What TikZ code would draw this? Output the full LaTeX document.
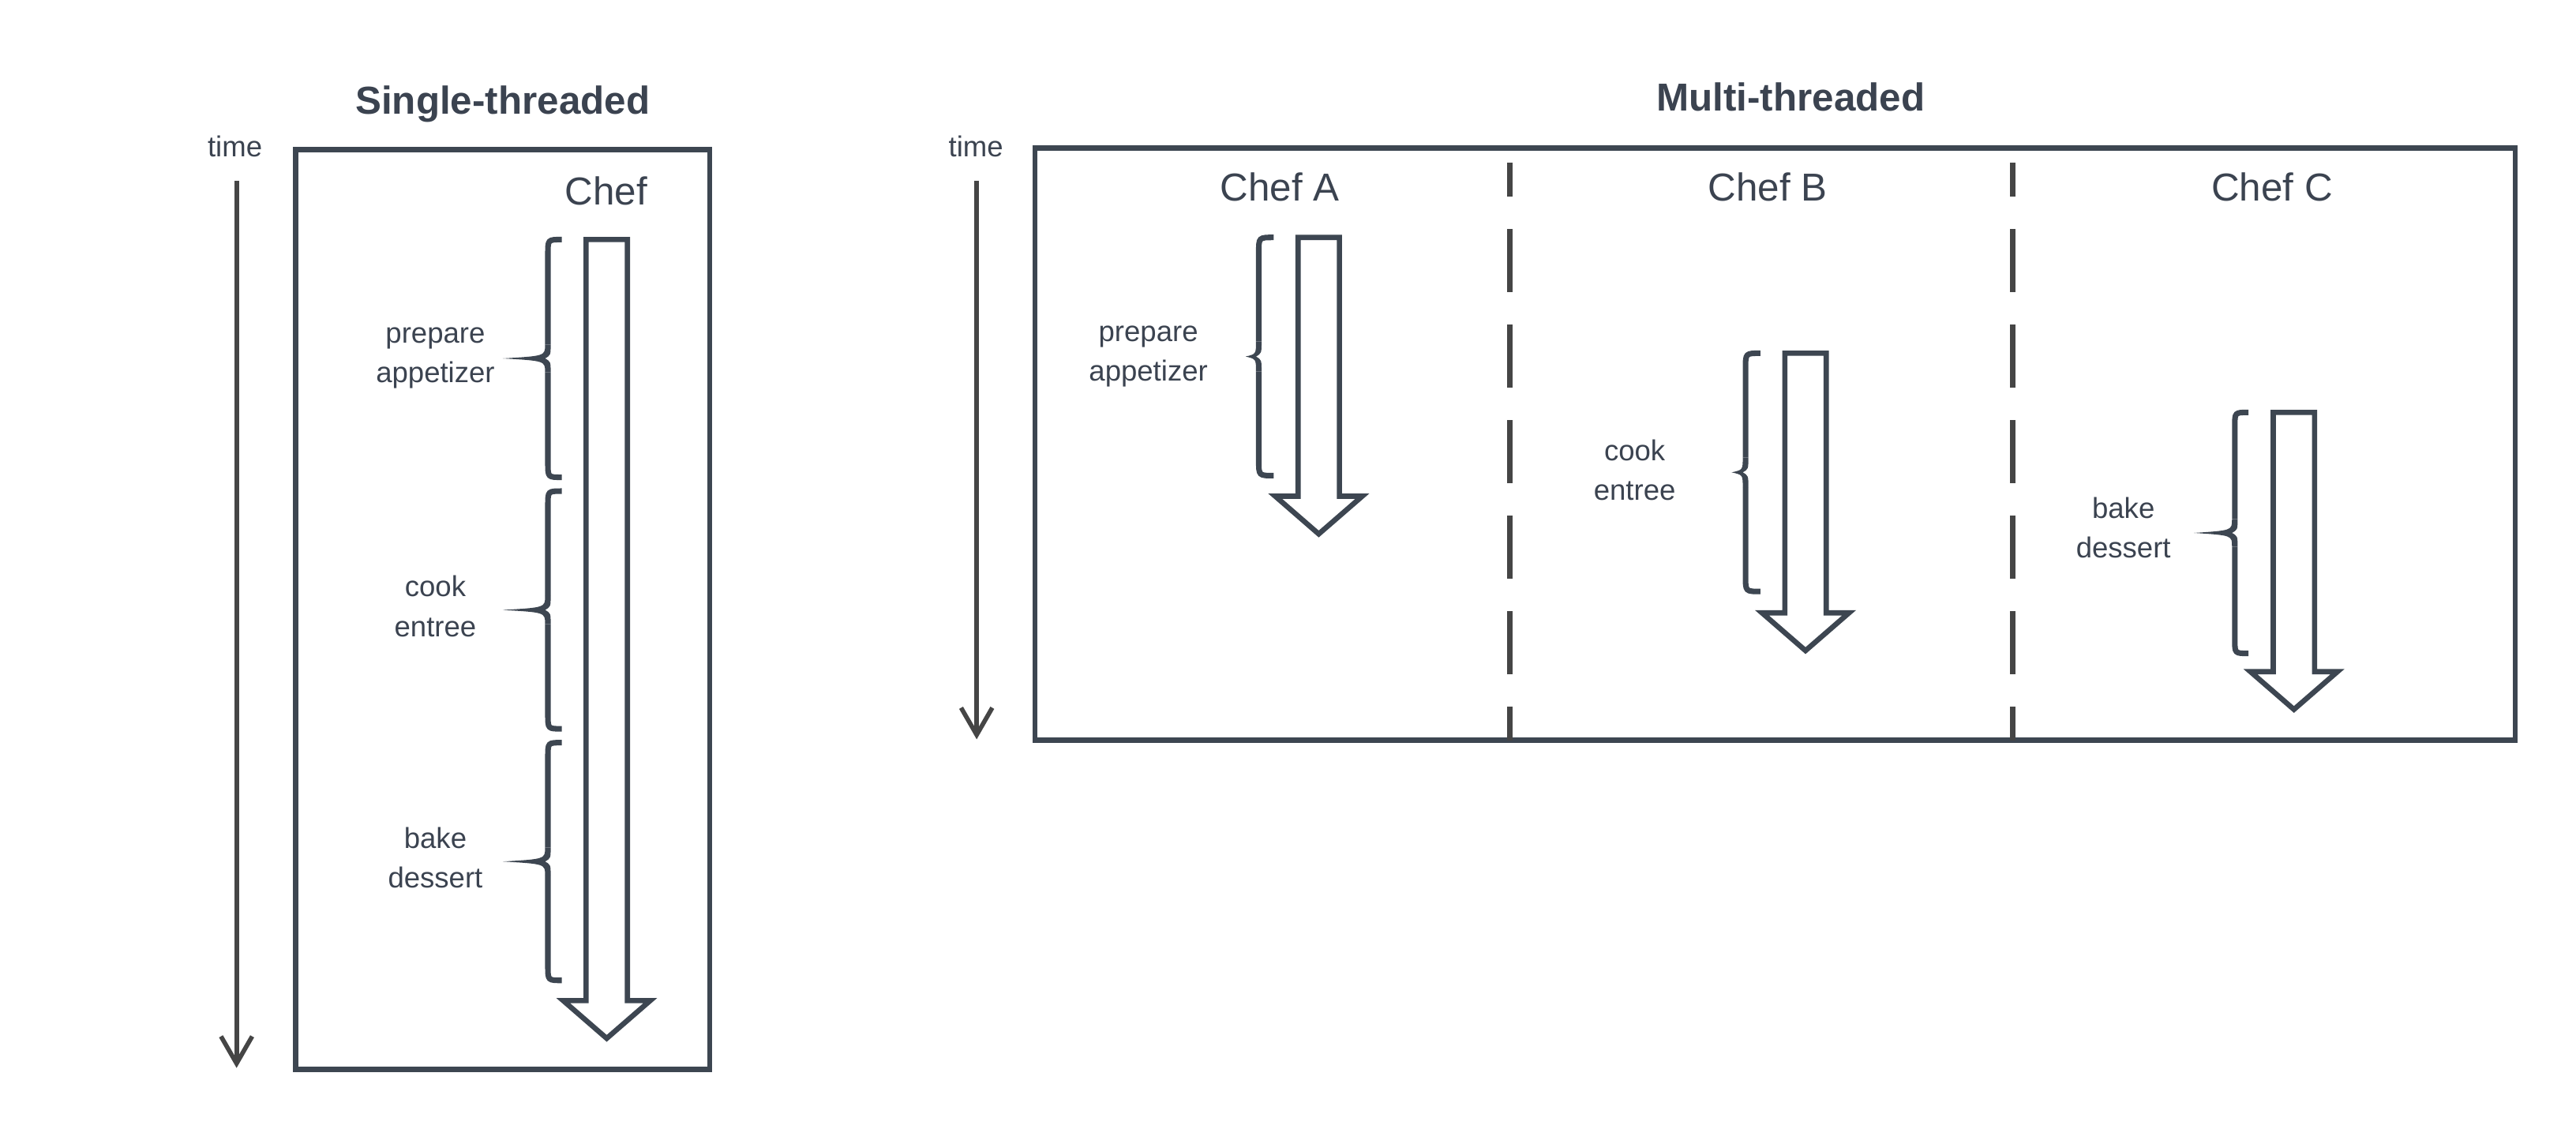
\documentclass[tikz,border=0pt]{standalone}
\usepackage{fontspec}
\setmainfont{Liberation Sans}
\usepackage{tikz}
\usepackage{xcolor}
\usetikzlibrary{positioning}
\usetikzlibrary{arrows.meta}

\definecolor{slate}{HTML}{3D4651}
\definecolor{ink}{HTML}{3B4350}
\definecolor{graphite}{HTML}{454545}

\tikzset{
  title/.style={text=ink, font=\fontsize{13.5}{16}\selectfont\bfseries},
  cheflbl/.style={text=ink, font=\fontsize{13.5}{16}\selectfont},
  timelbl/.style={text=ink, font=\fontsize{10}{12}\selectfont},
  tasklbl/.style={text=ink, align=center, font=\fontsize{10}{13.7}\selectfont},
  kitchen/.style={draw=slate, line width=1.8pt},
  timeline/.style={draw=graphite, line width=1.55pt},
  divider/.style={draw=graphite, line width=1.9pt, dash pattern=on 21.9pt off 11.2pt, dash phase=10.1pt},
  bigarrow/.style={draw=slate, fill=white, line width=1.8pt, line join=miter},
  brace/.style={draw=slate, line width=1.93pt}
}

% hollow arrow: centre x, top y, y where the head starts
\newcommand{\chefarrow}[3]{%
  \draw[bigarrow] ({#1-12.6},#2) -- ({#1+12.6},#2) -- ({#1+12.6},#3) -- ({#1+26.5},#3)
    -- (#1,{#3+23}) -- ({#1-26.5},#3) -- ({#1-12.6},#3) -- cycle;}

% curly brace: spine x, end x, tip x, top y, bottom y
\newcommand{\taskbrace}[5]{%
  \pgfmathsetmacro{\bmid}{(#4+#5)/2}%
  \pgfmathsetmacro{\brad}{#2-#1}%
  \draw[brace] (#2,#4) .. controls (#1,#4) .. (#1,{#4+\brad}) -- (#1,{\bmid-\brad});
  \draw[brace] (#1,{\bmid+\brad}) -- (#1,{#5-\brad}) .. controls (#1,#5) .. (#2,#5);
  \fill[slate] ({#1-1.7},{\bmid-\brad}) .. controls ({#1-1.7},{\bmid-1.5}) .. (#3,\bmid)
    .. controls ({#1-1.7},{\bmid+1.5}) .. ({#1-1.7},{\bmid+\brad}) -- ({#1+1.7},{\bmid+\brad})
    .. controls ({#1+1.7},{\bmid+2}) .. ({#1-1.7},\bmid)
    .. controls ({#1+1.7},{\bmid-2}) .. ({#1+1.7},{\bmid-\brad}) -- cycle;}

\begin{document}
\begin{tikzpicture}[x=0.02cm, y=-0.02cm, >={Straight Barb[length=0.33cm, width=0.38cm]}]
    \useasboundingbox (0,0) rectangle (1568,687);

    % single-threaded
    \node[title] (single) at (306,63.5) {Single-threaded};
    \node[timelbl] (time1) at (143,89) {time};
    \coordinate (t1start) at (144,110);
    \coordinate (t1end) at (144,650);
    \draw[timeline, ->] (t1start) -- (t1end);

    \draw[kitchen] (180,91) rectangle (432,651);
    \node[cheflbl] (chef) at (369,116) {Chef};

    \chefarrow{369.3}{145.8}{609}
    \taskbrace{333.5}{342}{306}{145.8}{290.5}
    \taskbrace{333.5}{342}{306}{298.9}{443.6}
    \taskbrace{333.5}{342}{306}{452}{596.7}
    \node[tasklbl] (app1) at (265,218) {prepare\\appetizer};
    \node[tasklbl] (ent1) at (265,369) {cook\\entree};
    \node[tasklbl] (des1) at (265,522) {bake\\dessert};

    % multi-threaded
    \node[title] (multi) at (1090,59) {Multi-threaded};
    \node[timelbl] (time2) at (594,89) {time};
    \coordinate (t2start) at (594.5,110);
    \coordinate (t2end) at (594.5,450);
    \draw[timeline, ->] (t2start) -- (t2end);

    \draw[kitchen] (630,90) rectangle (1531,450.5);
    \draw[divider] (918.8,99) -- (918.8,450.5);
    \draw[divider] (1225,99) -- (1225,450.5);

    \node[cheflbl] (chefa) at (779,114) {Chef A};
    \node[cheflbl] (chefb) at (1076,114) {Chef B};
    \node[cheflbl] (chefc) at (1383,114) {Chef C};

    \chefarrow{802.7}{144.5}{302}
    \taskbrace{766.2}{775.3}{758.2}{144.5}{289.5}
    \node[tasklbl] (app2) at (699,217) {prepare\\appetizer};

    \chefarrow{1099}{215}{373}
    \taskbrace{1062.5}{1071.5}{1054}{215}{360}
    \node[tasklbl] (ent2) at (995,286) {cook\\entree};

    \chefarrow{1396.3}{251}{408.8}
    \taskbrace{1360.3}{1368.6}{1335.4}{251}{397.7}
    \node[tasklbl] (des2) at (1292.5,321) {bake\\dessert};
\end{tikzpicture}
\end{document}
